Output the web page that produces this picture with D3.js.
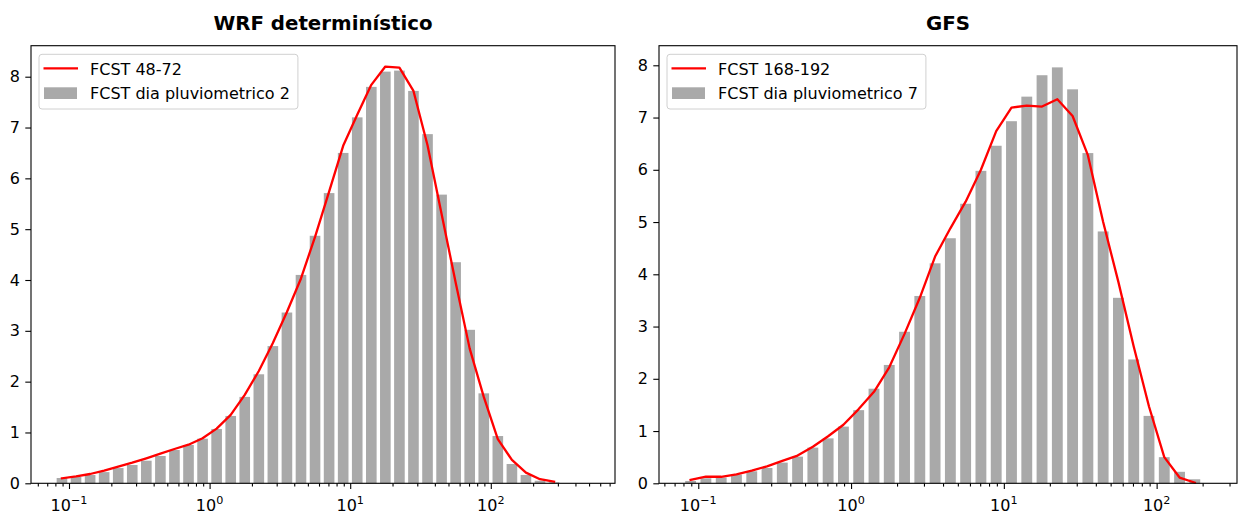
<!DOCTYPE html>
<html>
<head>
<meta charset="utf-8">
<title>WRF determinístico / GFS</title>
<script src="https://cdn.jsdelivr.net/npm/d3@7"></script>
<style>
    body { margin: 0; background: #fff; }
    svg text { font-family: "DejaVu Sans", sans-serif; fill: #000; }
    .axis path.domain { display: none; }
    .axis line { stroke: #000; stroke-width: 1.1px; }
    .axis text { font-size: 16px; }
    .title { font-size: 19.8px; font-weight: bold; text-anchor: middle; }
    .legendText { font-size: 16px; }
</style>
</head>
<body>
<script>
    // log-spaced bin centres (0.1 decade bins)
    const binCenters = [0.0891, 0.1122, 0.1413, 0.1778, 0.2239, 0.2818, 0.3548, 0.4467, 0.5623, 0.7079,
        0.8913, 1.122, 1.413, 1.778, 2.239, 2.818, 3.548, 4.467, 5.623, 7.079,
        8.913, 11.22, 14.13, 17.78, 22.39, 28.18, 35.48, 44.67, 56.23, 70.79,
        89.13, 112.2, 141.3, 177.8, 223.9, 281.8];

    const wrfBars = [0.104, 0.124, 0.163, 0.22, 0.30, 0.36, 0.445, 0.537, 0.655, 0.754,
        0.878, 1.069, 1.325, 1.70, 2.145, 2.70, 3.36, 4.10, 4.87, 5.71,
        6.50, 7.20, 7.80, 8.10, 8.12, 7.72, 6.87, 5.68, 4.35, 3.02,
        1.77, 0.93, 0.38, 0.164, 0.05, 0.02];
    const wrfLine = [0.098, 0.137, 0.183, 0.248, 0.327, 0.406, 0.492, 0.583, 0.675, 0.76,
        0.886, 1.075, 1.345, 1.74, 2.21, 2.76, 3.37, 4.03, 4.85, 5.74,
        6.64, 7.25, 7.84, 8.20, 8.18, 7.72, 6.65, 5.30, 3.95, 2.65,
        1.70, 0.87, 0.46, 0.21, 0.08, 0.03];

    const gfsBars = [0.045, 0.096, 0.11, 0.166, 0.23, 0.293, 0.396, 0.51, 0.683, 0.86,
        1.085, 1.40, 1.81, 2.265, 2.90, 3.585, 4.21, 4.69, 5.35, 5.98,
        6.46, 6.93, 7.40, 7.81, 7.96, 7.54, 6.32, 4.82, 3.55, 2.37,
        1.29, 0.50, 0.22, 0.077];
    const gfsLine = [0.064, 0.128, 0.125, 0.172, 0.242, 0.325, 0.43, 0.53, 0.70, 0.90,
        1.12, 1.42, 1.75, 2.22, 2.86, 3.55, 4.34, 4.88, 5.39, 6.0,
        6.74, 7.19, 7.23, 7.21, 7.35, 7.03, 6.28, 5.0, 3.85, 2.62,
        1.47, 0.50, 0.11, 0.013];

    const yTicks = [0, 1, 2, 3, 4, 5, 6, 7, 8];
    const xMajor = [0.1, 1, 10, 100];
    const xMajorExp = ["\u22121", "0", "1", "2"];

    const panels = [
        {title: "WRF determinístico", lineLabel: "FCST 48-72", barLabel: "FCST dia pluviometrico 2",
         bars: wrfBars, line: wrfLine,
         x0: 31, x1: 615, y0: 45.7, y1: 483.3, xLog: [-1.2703, 2.8834], yMax: 8.61, barW: 0.0755},
        {title: "GFS", lineLabel: "FCST 168-192", barLabel: "FCST dia pluviometrico 7",
         bars: gfsBars, line: gfsLine,
         x0: 659, x1: 1237, y0: 45.7, y1: 483.3, xLog: [-1.257, 2.526], yMax: 8.375, barW: 0.071}
    ];

    const svg = d3.select("body").append("svg").attr("width", 1240).attr("height", 514);

    function drawPanel(p) {
        const g = svg.append("g");
        const x = d3.scaleLog().domain([Math.pow(10, p.xLog[0]), Math.pow(10, p.xLog[1])]).range([p.x0, p.x1]);
        const y = d3.scaleLinear().domain([0, p.yMax]).range([p.y1, p.y0]);
        const half = Math.pow(10, p.barW / 2);

        g.selectAll("rect.bar")
            .data(p.bars)
            .join("rect")
            .attr("class", "bar")
            .attr("x", (d, i) => x(binCenters[i] / half))
            .attr("width", (d, i) => x(binCenters[i] * half) - x(binCenters[i] / half))
            .attr("y", d => y(d))
            .attr("height", d => y(0) - y(d))
            .attr("fill", "#a9a9a9");

        const line = d3.line().x((d, i) => x(binCenters[i])).y(d => y(d));
        g.append("path")
            .datum(p.line)
            .attr("d", line)
            .attr("fill", "none")
            .attr("stroke", "#ff0000")
            .attr("stroke-width", 2.3)
            .attr("stroke-linejoin", "round")
            .attr("stroke-linecap", "square");

        // x axis: minor then major ticks
        const minor = x.ticks().filter(t => Math.abs(Math.log10(t) - Math.round(Math.log10(t))) > 1e-6);
        g.append("g").attr("class", "axis")
            .attr("transform", `translate(0,${p.y1})`)
            .call(d3.axisBottom(x).tickValues(minor).tickSizeInner(3.3).tickSizeOuter(0).tickFormat(""));
        g.append("g").attr("class", "axis")
            .attr("transform", `translate(0,${p.y1})`)
            .call(d3.axisBottom(x).tickValues(xMajor).tickSizeInner(5.7).tickSizeOuter(0).tickFormat(""));

        xMajor.forEach((v, i) => {
            const t = g.append("text")
                .attr("x", x(v))
                .attr("y", 510.5)
                .attr("text-anchor", "middle")
                .style("font-size", "16px");
            t.append("tspan").text("10");
            t.append("tspan").attr("dy", -6.5).style("font-size", "11.2px").text(xMajorExp[i]);
        });

        // y axis
        g.append("g").attr("class", "axis")
            .attr("transform", `translate(${p.x0},0)`)
            .call(d3.axisLeft(y).tickValues(yTicks).tickSizeInner(5.7).tickSizeOuter(0).tickPadding(5.5).tickFormat(d3.format("d")));

        // frame
        g.append("rect")
            .attr("x", p.x0).attr("y", p.y0)
            .attr("width", p.x1 - p.x0).attr("height", p.y1 - p.y0)
            .attr("fill", "none").attr("stroke", "#000").attr("stroke-width", 1.1);

        g.append("text")
            .attr("class", "title")
            .attr("x", (p.x0 + p.x1) / 2)
            .attr("y", 30)
            .text(p.title);

        // legend
        const lx = p.x0 + 8, ly = 54.3;
        const lg = g.append("g");
        const box = lg.append("rect")
            .attr("x", lx).attr("y", ly)
            .attr("height", 54.7).attr("rx", 3).attr("ry", 3)
            .attr("fill", "#fff").attr("fill-opacity", 0.8)
            .attr("stroke", "#d0d0d0").attr("stroke-width", 1);
        lg.append("line")
            .attr("x1", lx + 4.5).attr("x2", lx + 39)
            .attr("y1", 68.3).attr("y2", 68.3)
            .attr("stroke", "#ff0000").attr("stroke-width", 2.3);
        lg.append("rect")
            .attr("x", lx + 5).attr("y", 87.3)
            .attr("width", 33).attr("height", 11.7)
            .attr("fill", "#a9a9a9");
        const t1 = lg.append("text").attr("class", "legendText").attr("x", lx + 51).attr("y", 74.5).text(p.lineLabel);
        const t2 = lg.append("text").attr("class", "legendText").attr("x", lx + 51).attr("y", 98.7).text(p.barLabel);
        const w = Math.max(t1.node().getComputedTextLength(), t2.node().getComputedTextLength());
        box.attr("width", 51 + w + 8);
    }

    panels.forEach(drawPanel);
</script>
</body>
</html>
